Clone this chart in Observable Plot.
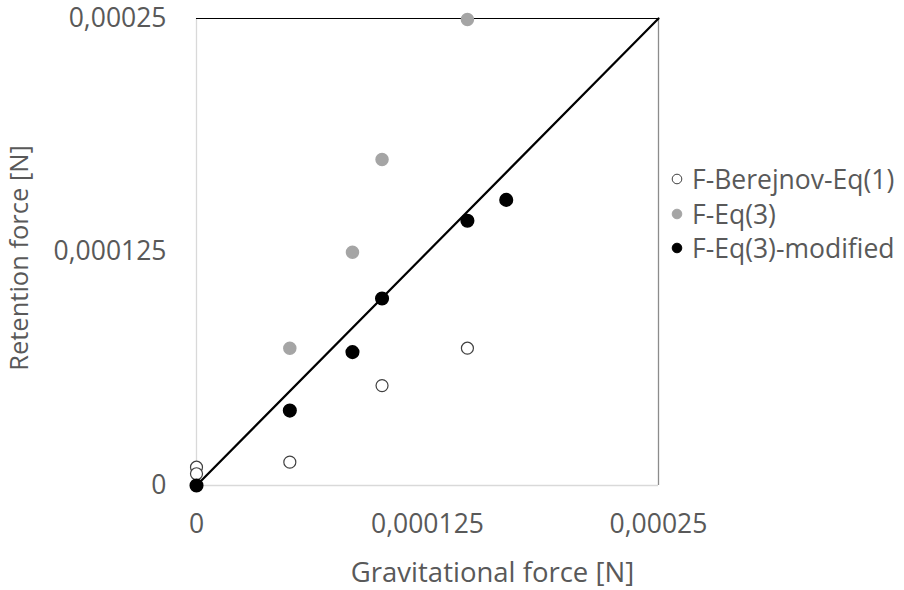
<!DOCTYPE html>
<html>
<head>
<meta charset="utf-8">
<script src="https://cdn.jsdelivr.net/npm/d3@7"></script>
<script src="https://cdn.jsdelivr.net/npm/@observablehq/plot@0.6"></script>
<style>
  html, body { margin: 0; padding: 0; background: #fff; }
  #wrap { position: relative; width: 904px; height: 590px; font-family: "Open Sans", sans-serif; }
  #legend { position: absolute; left: 668px; top: 162px; color: #595959; font-size: 26.5px; }
  .row { display: flex; align-items: center; height: 34.5px; white-space: nowrap; }
  .row svg { margin-right: 6px; }
</style>
</head>
<body>
<div id="wrap"><div id="legend"></div></div>
<script>
// Data (forces in N)
const seriesNames = ["F-Berejnov-Eq(1)", "F-Eq(3)", "F-Eq(3)-modified"];

const gravBerejnov = [0, 0, 5.05e-5, 1.004e-4, 1.466e-4];
const retBerejnov  = [9.8e-6, 6.3e-6, 1.25e-5, 5.35e-5, 7.35e-5];

const gravEq3 = [5.05e-5, 8.44e-5, 1.004e-4, 1.466e-4];
const retEq3  = [7.35e-5, 1.249e-4, 1.745e-4, 2.495e-4];

const gravMod = [0, 5.05e-5, 8.44e-5, 1.004e-4, 1.466e-4, 1.676e-4];
const retMod  = [0, 4.01e-5, 7.14e-5, 1.001e-4, 1.417e-4, 1.529e-4];

const axisTicks = [0, 0.000125, 0.00025];
const diagonal = [0, 0.00025];
const xTitle = "Gravitational force [N]";
const yTitle = "Retention force [N]";

const toRows = (xs, ys) => xs.map((x, i) => ({x, y: ys[i]}));
const berejnov = toRows(gravBerejnov, retBerejnov);
const eq3 = toRows(gravEq3, retEq3);
const modified = toRows(gravMod, retMod);
const diag = diagonal.map(v => ({x: v, y: v}));

const fmt = d => d === 0 ? "0" : String(d).replace(".", ",");
const textColor = "#595959";

const chart = Plot.plot({
  width: 904,
  height: 590,
  marginLeft: 196,
  marginRight: 246,
  marginTop: 18,
  marginBottom: 105,
  style: {fontFamily: "Open Sans, sans-serif", color: textColor, background: "#fff", overflow: "visible"},
  x: {domain: [0, 0.00025]},
  y: {domain: [0, 0.00025]},
  marks: [
    Plot.axisX({ticks: axisTicks, tickFormat: fmt, tickSize: 0, tickPadding: 29, fontSize: 26.5,
      label: null}),
    Plot.axisY({ticks: axisTicks, tickFormat: fmt, tickSize: 0, tickPadding: 30, fontSize: 26.5,
      label: null}),
    Plot.text([xTitle], {frameAnchor: "bottom", textAnchor: "middle", lineAnchor: "middle",
      dx: 65, dy: 88, fontSize: 27.5, fill: textColor}),
    Plot.text([yTitle], {frameAnchor: "left", textAnchor: "middle", lineAnchor: "middle", rotate: -90,
      dx: -177, dy: 6, fontSize: 25.5, fill: textColor}),
    Plot.ruleX([0], {stroke: "#d9d9d9", strokeWidth: 1.3}),
    Plot.ruleY([0], {stroke: "#d9d9d9", strokeWidth: 1.3}),
    Plot.ruleY([0.00025], {stroke: "#000", strokeWidth: 1.2}),
    Plot.ruleX([0.00025], {stroke: "#8c8c8c", strokeWidth: 1.3}),
    Plot.line(diag, {x: "x", y: "y", stroke: "#000", strokeWidth: 2.2}),
    Plot.dot(berejnov, {x: "x", y: "y", r: 6, fill: "#fff", stroke: "#404040", strokeWidth: 1.2}),
    Plot.dot(eq3, {x: "x", y: "y", r: 6, fill: "#a5a5a5", stroke: "#a5a5a5"}),
    Plot.dot(modified, {x: "x", y: "y", r: 6.3, fill: "#000", stroke: "#000"})
  ]
});
chart.style.position = "absolute";
chart.style.left = "0";
chart.style.top = "0";
document.getElementById("wrap").prepend(chart);

// Legend
const legendStyles = [
  {fill: "#fff", stroke: "#404040"},
  {fill: "#a5a5a5", stroke: "#a5a5a5"},
  {fill: "#000", stroke: "#000"}
];
const legend = document.getElementById("legend");
seriesNames.forEach((name, i) => {
  const row = document.createElement("div");
  row.className = "row";
  const s = legendStyles[i];
  row.innerHTML = `<svg width="18" height="18"><circle cx="9" cy="9" r="4.8" fill="${s.fill}" stroke="${s.stroke}" stroke-width="1"/></svg><span>${name}</span>`;
  legend.appendChild(row);
});
</script>
</body>
</html>
